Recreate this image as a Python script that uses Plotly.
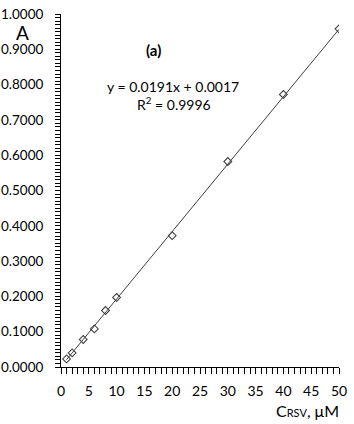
import plotly.graph_objects as go

conc = [1, 2, 4, 6, 8, 10, 20, 30, 40, 50]
absorb = [0.023, 0.040, 0.078, 0.108, 0.160, 0.197, 0.372, 0.582, 0.772, 0.958]
slope = 0.0191
intercept = 0.0017
fit_x = [min(conc), max(conc)]
fit_y = [slope * v + intercept for v in fit_x]

x_ticks = [0, 5, 10, 15, 20, 25, 30, 35, 40, 45, 50]
y_ticks = [0.0, 0.1, 0.2, 0.3, 0.4, 0.5, 0.6, 0.7, 0.8, 0.9, 1.0]

font = "Lato, Open Sans, sans-serif"

fig = go.Figure()
fig.add_trace(go.Scatter(x=fit_x, y=fit_y, mode="lines",
                         line=dict(color="#404040", width=1), hoverinfo="skip"))
fig.add_trace(go.Scatter(x=conc, y=absorb, mode="markers",
                         marker=dict(symbol="diamond-open", size=6,
                                     color="#404040", line=dict(width=1.1))))

fig.update_layout(
    width=354, height=424, showlegend=False,
    margin=dict(l=61, r=15, t=14, b=57),
    plot_bgcolor="white", paper_bgcolor="white",
    font=dict(family=font, size=14, color="black"),
    xaxis=dict(range=[0, 50], tickvals=x_ticks, ticktext=[str(v) for v in x_ticks],
               showgrid=False, zeroline=False, showline=True, linecolor="black", linewidth=1,
               ticks="outside", ticklen=6, tickcolor="black", ticklabelstandoff=5,
               automargin=False,
               minor=dict(dtick=1, ticks="outside", ticklen=6, tickcolor="black"),
               tickfont=dict(size=14)),
    yaxis=dict(range=[0, 1.0], tickvals=y_ticks, ticktext=[f"{v:.4f}" for v in y_ticks],
               showgrid=False, zeroline=False, showline=True, linecolor="black", linewidth=1,
               ticks="outside", ticklen=5, tickcolor="black", ticklabelstandoff=9,
               automargin=False,
               minor=dict(dtick=0.01, ticks="outside", ticklen=5, tickcolor="black"),
               tickfont=dict(size=13.5)),
)

ann = [
    dict(text="A", px=22, py=33, size=19),
    dict(text="<b>(a)</b>", px=153, py=50, size=15),
    dict(text="y = 0.0191x + 0.0017", px=173, py=86, size=14),
    dict(text="R<sup>2</sup> = 0.9996", px=174, py=103, size=14),
    dict(text="C<span style='font-size:11px'>RSV</span>, μM", px=307, py=410, size=16),
]
pl, pr, pt, pb = 61, 339, 14, 367
for a in ann:
    fx = (a["px"] - pl) / (pr - pl)
    fy = (pb - a["py"]) / (pb - pt)
    fig.add_annotation(text=a["text"], x=fx, y=fy, xref="paper", yref="paper",
                       showarrow=False, xanchor="center", yanchor="middle",
                       font=dict(size=a["size"], color="black"))

fig.write_html("out.html")
